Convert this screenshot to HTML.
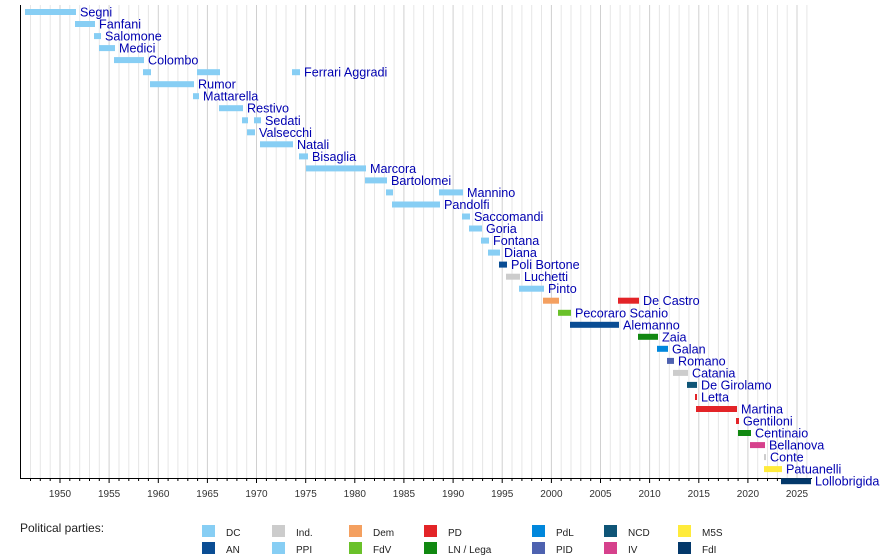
<!DOCTYPE html>
<html><head><meta charset="utf-8"><style>
body{margin:0;background:#fff}
svg{display:block;font-family:"Liberation Sans",sans-serif}
.n{font-size:12.6px;fill:#0000b0}
.t{font-size:10px;fill:#333;text-anchor:middle}
.l{font-size:10px;fill:#222}
</style></head><body>
<svg id="s" width="890" height="558" xmlns="http://www.w3.org/2000/svg"></svg>
<script>
const s=document.getElementById('s');let h='';
const X=y=>60+(y-1950)*9.827;
for(let y=1947;y<=2026;y++){const x=X(y).toFixed(1);h+=`<line x1="${x}" y1="5" x2="${x}" y2="478" stroke="${y%5?'#e6e6e6':'#d0d0d0'}" stroke-width="1"/>`;
h+=`<line x1="${x}" y1="478" x2="${x}" y2="${y%5?481:483}" stroke="#000"/>`;
if(y%5==0&&y<=2025)h+=`<text class="t" x="${x}" y="497">${y}</text>`;}
h+=`<line x1="20.5" y1="5" x2="20.5" y2="478" stroke="#000"/><line x1="20" y1="478.5" x2="812" y2="478.5" stroke="#000"/>`;
const C={DC:'#87cef4',AN:'#0a4d94',I:'#cccccc',Dem:'#f4a060',FdV:'#6ac12a',PD:'#e32428',L:'#118811',PdL:'#0087dc',PID:'#4e62b0',NCD:'#0f5577',IV:'#d6418c',M:'#ffeb3b',FdI:'#03386a'};
const R=[
['Segni',[[25,76,'DC']]],['Fanfani',[[75,95,'DC']]],['Salomone',[[94,101,'DC']]],['Medici',[[99,115,'DC']]],['Colombo',[[114,144,'DC']]],
['',[[143,151,'DC'],[197,220,'DC'],[292,300,'DC','Ferrari Aggradi']]],
['Rumor',[[150,194,'DC']]],['Mattarella',[[193,199,'DC']]],['Restivo',[[219,243,'DC']]],['Sedati',[[242,248,'DC'],[254,261,'DC']]],['Valsecchi',[[247,255,'DC']]],['Natali',[[260,293,'DC']]],['Bisaglia',[[299,308,'DC']]],['Marcora',[[306,366,'DC']]],['Bartolomei',[[365,387,'DC']]],
['',[[386,393,'DC'],[439,463,'DC','Mannino']]],['Pandolfi',[[392,440,'DC']]],['Saccomandi',[[462,470,'DC']]],['Goria',[[469,482,'DC']]],['Fontana',[[481,489,'DC']]],['Diana',[[488,500,'DC']]],['Poli Bortone',[[499,507,'AN']]],['Luchetti',[[506,520,'I']]],['Pinto',[[519,544,'DC']]],
['',[[543,559,'Dem'],[618,639,'PD','De Castro']]],['Pecoraro Scanio',[[558,571,'FdV']]],['Alemanno',[[570,619,'AN']]],['Zaia',[[638,658,'L']]],['Galan',[[657,668,'PdL']]],['Romano',[[667,674,'PID']]],['Catania',[[673,688,'I']]],['De Girolamo',[[687,697,'NCD']]],['Letta',[[695,697,'PD']]],['Martina',[[696,737,'PD']]],['Gentiloni',[[736,739,'PD']]],['Centinaio',[[738,751,'L']]],['Bellanova',[[750,765,'IV']]],['Conte',[[764,766,'I']]],['Patuanelli',[[764,782,'M']]],['Lollobrigida',[[781,811,'FdI']]]];
R.forEach((r,i)=>{const cy=12+i*12.03;let last=0;r[1].forEach(b=>{h+=`<rect x="${b[0]}" y="${(cy-3).toFixed(1)}" width="${b[1]-b[0]}" height="6" fill="${C[b[2]]}"/>`;last=b[1];if(b[3])h+=`<text class="n" x="${b[1]+4}" y="${(cy+4.5).toFixed(1)}">${b[3]}</text>`;});
if(r[0])h+=`<text class="n" x="${last+4}" y="${(cy+4.5).toFixed(1)}">${r[0]}</text>`;});
h+=`<text x="20" y="532" style="font-size:12px;fill:#222">Political parties:</text>`;
const L=[[202,'DC','DC','AN','AN'],[272,'I','Ind.','DC','PPI'],[349,'Dem','Dem','FdV','FdV'],[424,'PD','PD','L','LN / Lega'],[532,'PdL','PdL','PID','PID'],[604,'NCD','NCD','IV','IV'],[678,'M','M5S','FdI','FdI']];
L.forEach(c=>{h+=`<rect x="${c[0]}" y="525" width="13" height="12" fill="${C[c[1]]}"/><text class="l" x="${c[0]+24}" y="536">${c[2]}</text><rect x="${c[0]}" y="542" width="13" height="12" fill="${C[c[3]]}"/><text class="l" x="${c[0]+24}" y="553">${c[4]}</text>`;});
s.innerHTML=h;
</script>
</body></html>
